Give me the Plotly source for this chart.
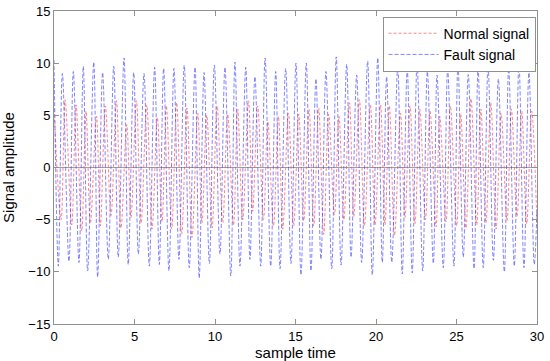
import plotly.graph_objects as go

# ---- data ----
# Fault signal (blue): extremes
fault_start = (0.0, 10.3)
fault_end = (30.0, -4.0)
fault_peak_t = [0.52, 1.20, 1.82, 2.47, 3.02, 3.71, 4.35, 4.95, 5.59, 6.25, 6.81, 7.45, 8.09, 8.76, 9.32, 9.96,
                10.62, 11.24, 11.91, 12.48, 13.11, 13.77, 14.39, 15.03, 15.67, 16.27, 16.89, 17.53, 18.18, 18.80,
                19.48, 20.11, 20.66, 21.35, 21.94, 22.55, 23.19, 23.79, 24.45, 25.09, 25.73, 26.34, 26.96, 27.60,
                28.24, 28.88, 29.50]
fault_peak_v = [9.0, 9.2, 9.7, 10.1, 9.1, 9.7, 10.5, 9.1, 9.0, 9.6, 9.5, 9.5, 9.8, 9.6, 9.1, 9.8,
                9.6, 10.1, 9.6, 8.7, 10.5, 9.2, 9.5, 10.0, 10.0, 8.5, 9.2, 10.6, 9.9, 8.85, 10.2, 10.5,
                8.7, 9.7, 9.4, 9.9, 9.2, 8.85, 9.4, 9.9, 8.9, 9.5, 9.7, 8.5, 9.5, 9.9, 9.1]
fault_trough_t = [0.27, 0.93, 1.55, 2.09, 2.71, 3.37, 3.99, 4.61, 5.24, 5.92, 6.54, 7.14, 7.76, 8.40, 9.02, 9.65,
                  10.31, 10.98, 11.55, 12.17, 12.84, 13.46, 14.04, 14.72, 15.34, 15.96, 16.58, 17.25, 17.83, 18.45,
                  19.11, 19.77, 20.39, 20.98, 21.63, 22.25, 22.90, 23.56, 24.18, 24.84, 25.42, 26.09, 26.66, 27.29,
                  27.97, 28.59, 29.19, 29.83]
fault_trough_v = [-9.45, -9.0, -9.1, -9.9, -10.5, -8.8, -8.6, -9.3, -8.3, -9.45, -9.3, -9.9, -8.8, -9.6, -10.6, -9.2,
                  -8.3, -10.4, -9.45, -8.8, -9.45, -9.45, -9.7, -9.2, -10.3, -9.9, -8.8, -9.7, -9.35, -8.6, -9.1, -10.3,
                  -9.1, -9.1, -10.2, -10.1, -9.9, -9.2, -9.6, -9.45, -8.6, -9.7, -9.6, -8.9, -10.0, -9.45, -9.6, -9.3]

# Normal signal (red): extremes
normal_start = (0.0, 5.6)
normal_peak_t = [0.69, 1.37, 1.99, 2.64, 3.19, 3.88, 4.52, 5.12, 5.76, 6.42, 6.98, 7.62, 8.26, 8.93, 9.49, 10.13,
                 10.79, 11.41, 12.08, 12.65, 13.28, 13.94, 14.56, 15.20, 15.84, 16.44, 17.06, 17.70, 18.35, 18.97,
                 19.65, 20.28, 20.83, 21.52, 22.11, 22.72, 23.36, 23.96, 24.62, 25.26, 25.90, 26.51, 27.13, 27.77,
                 28.41, 29.05, 29.67]
normal_peak_v = [6.5, 6.0, 5.4, 4.9, 5.9, 6.4, 4.1, 6.4, 6.0, 4.8, 5.9, 6.2, 5.7, 5.2, 5.0, 5.9,
                 5.1, 5.6, 6.4, 5.9, 4.4, 4.9, 5.2, 5.1, 5.6, 5.7, 5.1, 4.9, 6.2, 6.5, 6.0, 6.0,
                 5.9, 5.2, 5.9, 5.6, 5.4, 4.9, 5.9, 5.1, 6.6, 5.6, 6.2, 5.2, 5.6, 5.4, 5.4]
normal_trough_t = [0.44, 1.10, 1.72, 2.26, 2.88, 3.54, 4.16, 4.78, 5.41, 6.09, 6.71, 7.31, 7.93, 8.57, 9.19, 9.82,
                   10.48, 11.15, 11.72, 12.34, 13.01, 13.63, 14.21, 14.89, 15.51, 16.13, 16.75, 17.42, 18.00, 18.62,
                   19.28, 19.94, 20.56, 21.15, 21.80, 22.42, 23.07, 23.73, 24.35, 25.01, 25.59, 26.26, 26.83, 27.46,
                   28.14, 28.76, 29.36, 30.00]
normal_trough_v = [-5.0, -5.5, -6.1, -5.3, -5.6, -4.6, -5.8, -4.8, -5.3, -5.9, -5.2, -5.9, -6.4, -6.7, -5.3, -5.8,
                   -5.3, -5.5, -5.0, -4.2, -5.0, -5.6, -5.9, -5.6, -5.1, -5.6, -6.4, -4.5, -5.0, -4.7, -5.6, -5.5,
                   -5.5, -6.5, -4.8, -5.4, -5.0, -5.7, -5.2, -5.6, -5.8, -5.5, -5.3, -5.9, -5.1, -4.7, -5.4, -5.6]

x_ticks = [0, 5, 10, 15, 20, 25, 30]
y_ticks = [-15, -10, -5, 0, 5, 10, 15]


def merge(start, pt, pv, tt, tv, end=None):
    pts = [start] + list(zip(pt, pv)) + list(zip(tt, tv))
    if end is not None:
        pts.append(end)
    pts.sort(key=lambda p: p[0])
    return [p[0] for p in pts], [p[1] for p in pts]


nx, ny = merge(normal_start, normal_peak_t, normal_peak_v, normal_trough_t, normal_trough_v)
fx, fy = merge(fault_start, fault_peak_t, fault_peak_v, fault_trough_t, fault_trough_v, fault_end)

FONT = "Liberation Sans, Arial"

fig = go.Figure()
fig.add_trace(go.Scatter(x=nx, y=ny, mode="lines", name="Normal signal",
                         line=dict(color="rgba(255,50,50,0.6)", width=1, dash="3px,2px", shape="spline", smoothing=1.0)))
fig.add_trace(go.Scatter(x=fx, y=fy, mode="lines", name="Fault signal",
                         line=dict(color="rgba(50,50,255,0.6)", width=1, dash="4px,2px", shape="spline", smoothing=1.0)))

axis_common = dict(showline=True, linecolor="#909090", linewidth=1, mirror="ticks",
                   ticks="inside", ticklen=5, tickcolor="#909090", showgrid=False, automargin=False,
                   tickfont=dict(family=FONT, size=13, color="black"))
fig.update_xaxes(range=[0, 30], tickvals=x_ticks, zeroline=False,
                 title=dict(text="sample time", font=dict(family=FONT, size=15, color="black")),
                 **axis_common)
fig.update_yaxes(range=[-15, 15], tickvals=y_ticks, zeroline=True, zerolinecolor="#a0a0a0", zerolinewidth=1,
                 title=dict(text="Signal amplitude", font=dict(family=FONT, size=15, color="black")),
                 **axis_common)

fig.update_layout(
    width=550, height=361,
    margin=dict(l=54, r=13, t=11, b=37),
    plot_bgcolor="white", paper_bgcolor="white",
    font=dict(family=FONT, color="black"),
    legend=dict(x=0.997, y=0.982, xanchor="right", yanchor="top",
                bgcolor="white", bordercolor="#909090", borderwidth=1,
                font=dict(family=FONT, size=14, color="black"),
                tracegroupgap=0, itemwidth=50),
    showlegend=True,
)

# remove the browser's default 8px body margin so the figure fills the window
fig.write_html("out.html", config={"displayModeBar": False},
               post_script="document.body.style.margin='0';document.body.style.overflow='hidden';")
